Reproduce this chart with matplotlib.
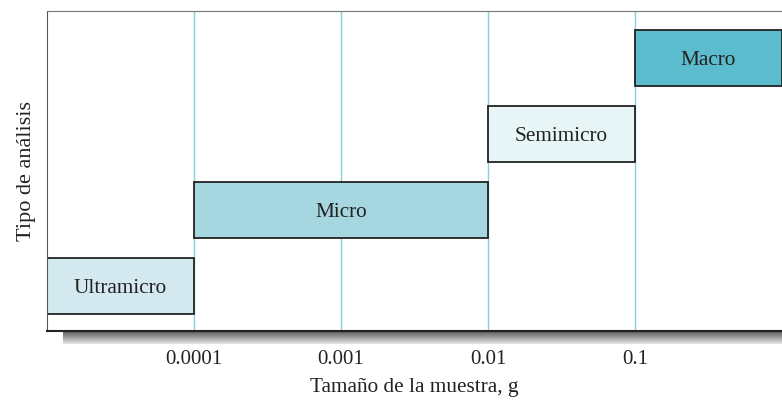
import numpy as np
import matplotlib
matplotlib.use('Agg')
import matplotlib.pyplot as plt

plt.rcParams['font.family'] = ['Liberation Serif', 'DejaVu Serif']

# datos: tipo de análisis y rango de tamaño de muestra (g)
tipos = ['Ultramicro', 'Micro', 'Semimicro', 'Macro']
desde = [1e-5, 1e-4, 1e-2, 1e-1]
hasta = [1e-4, 1e-2, 1e-1, 1.0]
colores = ['#d3e9ef', '#a6d6e0', '#e8f5f7', '#5bbccd']
ticks = [1e-4, 1e-3, 1e-2, 1e-1]
tick_labels = ['0.0001', '0.001', '0.01', '0.1']

fig = plt.figure(figsize=(7.82, 4.0), dpi=100)

# sombra bajo el eje x
sh = fig.add_axes([63/782, (400-344)/400, (782-63)/782, 13/400])
grad = np.linspace(0.35, 0.9, 50).reshape(-1, 1)
sh.imshow(grad, aspect='auto', cmap='gray', vmin=0, vmax=1, extent=[0, 1, 0, 1])
sh.axis('off')

ax = fig.add_axes([47/782, (400-331)/400, (782-47)/782, 320/400])
ax.set_xscale('log')
ax.set_xlim(1e-5, 1.0)
ax.set_ylim(-0.592, 3.618)

for t in ticks:
    ax.axvline(t, color='#8ccfdb', lw=1, zorder=0)

for i, (nombre, a, b, c) in enumerate(zip(tipos, desde, hasta, colores)):
    ax.barh(i, b - a, left=a, height=0.737, color=c, edgecolor='#222222', lw=1.3, zorder=2)
    xc = np.sqrt(a * b)
    ax.text(xc, i, nombre, ha='center', va='center_baseline', fontsize=15.3,
            color='#222222', zorder=3)

ax.set_xticks(ticks)
ax.set_xticklabels(tick_labels)
ax.minorticks_off()
ax.tick_params(axis='x', length=0, pad=14, labelsize=15, colors='#222222')
ax.set_yticks([])
ax.set_xlabel('Tamaño de la muestra, g', fontsize=15.3, color='#222222', labelpad=6.5)
ax.set_ylabel('Tipo de análisis', fontsize=16, color='#222222', labelpad=8)

ax.spines['right'].set_visible(False)
ax.spines['top'].set_color('#777777')
ax.spines['left'].set_color('#555555')
ax.spines['bottom'].set_color('#222222')
ax.spines['bottom'].set_linewidth(1.5)

fig.savefig('out.png', dpi=100)
